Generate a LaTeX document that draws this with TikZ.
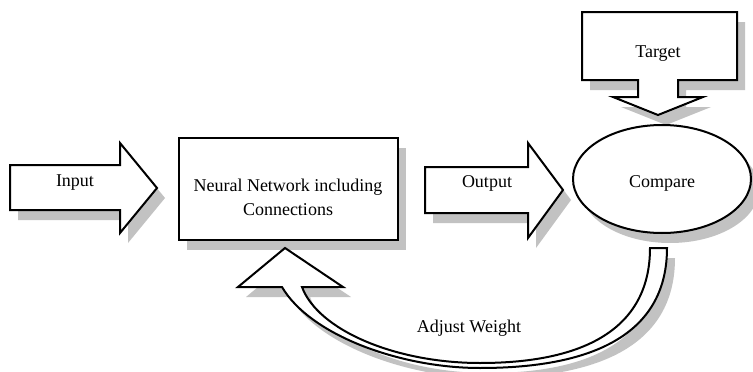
\documentclass[tikz,border=0pt]{standalone}
\usepackage{fontspec}
\setmainfont{Liberation Serif}
\begin{document}
\begin{tikzpicture}[x=1pt,y=-1pt,
  blockshape/.style={draw=black, line width=2pt, fill=white, line join=miter},
  shadowfill/.style={fill=black!24},
  lbl/.style={font=\fontsize{18}{21}\selectfont, inner sep=0pt}]
\useasboundingbox[fill=white] (0,0) rectangle (753,372);
% shapes
\def\inputarrow{(10,165) -- (120,165) -- (120,143) -- (157,188) -- (120,233) -- (120,210) -- (10,210) -- cycle}
\def\outputarrow{(425,167) -- (528,167) -- (528,143) -- (563,190) -- (528,238) -- (528,213) -- (425,213) -- cycle}
\def\nnbox{(179,138) rectangle (398,240)}
\def\targetarrow{(582,12) -- (737,12) -- (737,80) -- (678,80) -- (678,97) -- (703,97) -- (658,115) -- (613,97) -- (638,97) -- (638,80) -- (582,80) -- cycle}
\def\compareell{(662,179) ellipse [x radius=89, y radius=54]}
\def\fbarrow{(667,248) .. controls (667,330) and (600,368) .. (480,368) .. controls (400,368) and (310,335) .. (282,287) -- (238,287) -- (285,248) -- (343,287) -- (302,287) .. controls (318,330) and (395,363) .. (480,363) .. controls (590,363) and (650,325) .. (650,248) -- cycle}
% shadows
\begin{scope}[shift={(8,10)}]
  \fill[shadowfill] \inputarrow;
  \fill[shadowfill] \outputarrow;
  \fill[shadowfill] \nnbox;
  \fill[shadowfill] \targetarrow;
  \fill[shadowfill] \compareell;
  \fill[shadowfill] \fbarrow;
\end{scope}
% outlines
\draw[blockshape] \inputarrow;
\draw[blockshape] \outputarrow;
\draw[blockshape] \nnbox;
\draw[blockshape] \targetarrow;
\draw[blockshape] \compareell;
\draw[blockshape] \fbarrow;
% labels
\node[lbl] (input) at (75,183) {Input};
\node[lbl, align=center] (nn) at (288,197) {Neural Network including\\[3pt]Connections};
\node[lbl] (output) at (487,183) {Output};
\node[lbl] (compare) at (662,183) {Compare};
\node[lbl] (target) at (658,54) {Target};
\node[lbl] (adjust) at (469,328) {Adjust Weight};
\end{tikzpicture}
\end{document}
